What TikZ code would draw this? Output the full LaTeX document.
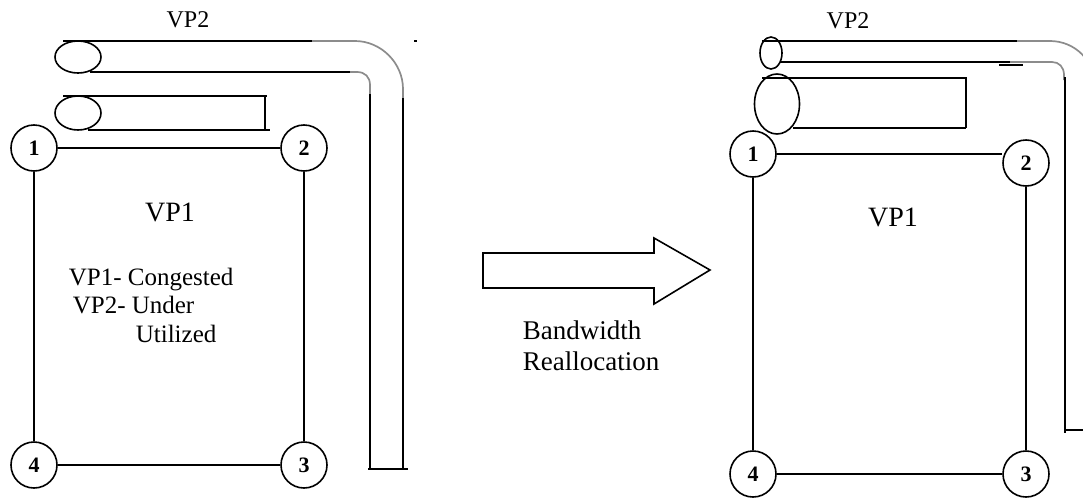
\documentclass[tikz,border=0pt]{standalone}
\usepackage{fontspec}
\setmainfont{Liberation Serif}
\begin{document}
\begin{tikzpicture}[x=1pt,y=-1pt,line width=1.6pt,
  vnode/.style={circle,draw,line width=1.6pt,minimum size=46pt,inner sep=0pt,font=\fontsize{22}{22}\selectfont\bfseries},
  lbl/.style={inner sep=0pt,font=\fontsize{24}{24}\selectfont},
  biglbl/.style={inner sep=0pt,font=\fontsize{28}{28}\selectfont},
  txt/.style={inner sep=0pt,anchor=base west,font=\fontsize{25}{25}\selectfont},
  bwtxt/.style={inner sep=0pt,anchor=base west,font=\fontsize{27}{27}\selectfont},
  greybend/.style={draw=black!45,line width=1.7pt}]
\useasboundingbox (0,0) rectangle (1083,498);
\clip (0,0) rectangle (1083,498);

% ---------- left diagram ----------
\node[lbl] (vp2l) at (188,20) {VP2};
% VP2 tube
\draw (78,57) ellipse [x radius=23pt,y radius=16pt];
\draw (63,41) -- (312,41);
\draw[greybend] (312,41) -- (355,41) .. controls (381,41) and (403,63) .. (403,89) -- (403,100);
\draw (403,98) -- (403,469);
\draw (90,72) -- (350,72);
\draw[greybend] (350,72) -- (357,72) .. controls (365,72) and (370,77) .. (370,85) -- (370,96);
\draw (370,94) -- (370,469);
\draw (368,469) -- (408,469);
\draw (414,41) -- (417,41);
% VP1 tube
\draw (78,113) ellipse [x radius=23pt,y radius=17pt];
\draw (63,96) -- (267,96);
\draw (265,96) -- (265,130);
\draw (88,130) -- (270,130);
% nodes
\node[vnode] (n1) at (34,148) {\raisebox{-7pt}{1}};
\node[vnode] (n2) at (304,148) {\raisebox{-7pt}{2}};
\node[vnode] (n3) at (304,465) {\raisebox{-7pt}{3}};
\node[vnode] (n4) at (34,465) {\raisebox{-7pt}{4}};
\draw (n1) -- (n2);
\draw (n2) -- (n3);
\draw (n3) -- (n4);
\draw (n4) -- (n1);
\node[biglbl] (vp1l) at (170,212) {VP1};
\node[txt] (t1) at (68,285) {VP1- Congested};
\node[txt] (t2) at (72,313) {VP2- Under};
\node[txt] (t3) at (135,342) {Utilized};

% ---------- arrow ----------
\draw (483,253) -- (654,253) -- (654,238) -- (710,270) -- (654,304) -- (654,288) -- (483,288) -- cycle;
\node[bwtxt] (bw1) at (522,339) {Bandwidth};
\node[bwtxt] (bw2) at (522,370) {Reallocation};

% ---------- right diagram ----------
\node[lbl] (vp2r) at (848,21) {VP2};
% VP2 tube (narrowed)
\draw (771,53) ellipse [x radius=11pt,y radius=16pt];
\draw (762,41) -- (1017,41);
\draw[greybend] (1017,41) -- (1050,41) .. controls (1075,41) and (1095,61) .. (1095,86) -- (1095,498);
\draw (780,62) -- (1010,62);
\draw[greybend] (1010,62) -- (1052,62) .. controls (1059,62) and (1064,67) .. (1064,75) -- (1064,80);
\draw (999,65) -- (1023,65);
\draw (1065,77) -- (1065,433);
\draw (1065,430) -- (1083,430);
% VP1 tube (widened)
\draw (777,104) ellipse [x radius=22.5pt,y radius=30pt];
\draw (762,78) -- (967,78);
\draw (966,78) -- (966,128);
\draw (793,128) -- (966,128);
% nodes
\node[vnode] (m1) at (753,154) {\raisebox{-2pt}{1}};
\node[vnode] (m2) at (1026,163) {\raisebox{-2pt}{2}};
\node[vnode] (m3) at (1026,474) {\raisebox{-3pt}{3}};
\node[vnode] (m4) at (753,474) {\raisebox{-3pt}{4}};
\draw (m1.east) -- (m1.east -| m2.west);
\draw (m2) -- (m3);
\draw (m3) -- (m4);
\draw (m4) -- (m1);
\node[biglbl] (vp1r) at (893,217) {VP1};
\end{tikzpicture}
\end{document}
